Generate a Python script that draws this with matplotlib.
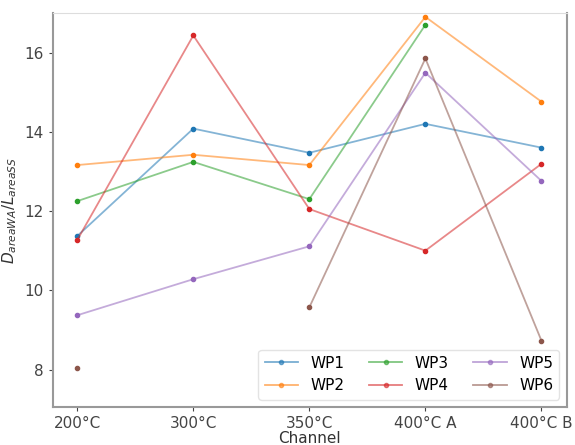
import numpy as np
import matplotlib
matplotlib.use('Agg')
import matplotlib.pyplot as plt

channels = ['200°C', '300°C', '350°C', '400°C A', '400°C B']

wp1 = [11.37, 14.08, 13.47, 14.20, 13.60]
wp2 = [13.16, 13.42, 13.16, 16.90, 14.76]
wp3 = [12.25, 13.24, 12.30, 16.70, np.nan]
wp4 = [11.27, 16.43, 12.05, 11.00, 13.19]
wp5 = [9.37, 10.28, 11.11, 15.49, 12.76]
wp6 = [8.05, np.nan, 9.57, 15.85, 8.73]

series = {'WP1': wp1, 'WP2': wp2, 'WP3': wp3, 'WP4': wp4, 'WP5': wp5, 'WP6': wp6}


def main():
    fig, ax = plt.subplots(figsize=(5.75, 4.45), dpi=100)

    x = np.arange(len(channels))
    for i, (name, vals) in enumerate(series.items()):
        color = 'C%d' % i
        line, = ax.plot(x, vals, '-', color=color, alpha=0.55, lw=1.3)
        ax.plot(x, vals, 'o', color=color, ms=3)
        # legend proxy with line + marker
        ax.plot([], [], '-o', color=color, ms=3, lw=1.3, alpha=0.6, label=name)

    ax.set_xticks(x)
    ax.set_xticklabels(channels, fontsize=11)
    ax.set_xlim(-0.21, 4.22)
    ax.set_ylim(7.05, 17.0)
    ax.set_yticks([8, 10, 12, 14, 16])
    ax.tick_params(axis='y', labelsize=11)
    ax.tick_params(colors='#444444', length=3)
    ax.set_xlabel('Channel', fontsize=11, labelpad=0, color='#333333')
    ax.set_ylabel('$D_{areaWA}/L_{areaSS}$', fontsize=11, color='#333333')

    for side in ['left', 'bottom']:
        ax.spines[side].set_color('#999999')
        ax.spines[side].set_linewidth(1.5)
    ax.spines['top'].set_color('#dddddd')
    ax.spines['right'].set_color('#999999')
    ax.spines['right'].set_linewidth(1.5)

    ax.legend(ncol=3, loc='lower right', fontsize=11, handlelength=2.2,
              columnspacing=1.6, frameon=True, edgecolor='#dddddd')

    fig.subplots_adjust(left=0.092, right=0.986, top=0.971, bottom=0.085)
    plt.savefig('out.png')


if __name__ == "__main__":
    main()
